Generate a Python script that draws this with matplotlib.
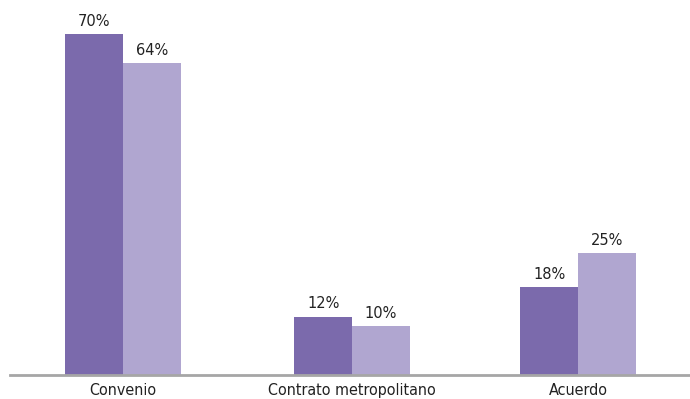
import matplotlib.pyplot as plt
import numpy as np

categories = ["Convenio", "Contrato metropolitano", "Acuerdo"]
serie_a = [70, 12, 18]
serie_b = [64, 10, 25]

plt.rcParams['font.family'] = ['DejaVu Sans']
plt.rcParams['font.stretch'] = 'condensed'

fig = plt.figure(figsize=(6.9, 3.99), dpi=100)
ax = fig.add_axes([10 / 690, 24 / 399, 680 / 690, 375 / 399])

x = np.array([0, 1.005, 1.996])
w = 0.254
b1 = ax.bar(x - w / 2, serie_a, w, color="#7B6AAC")
b2 = ax.bar(x + w / 2, serie_b, w, color="#B0A6D0")

for bars, vals in ((b1, serie_a), (b2, serie_b)):
    for rect, v in zip(bars, vals):
        ax.text(rect.get_x() + rect.get_width() / 2, v + 1.1, f"{v}%",
                ha="center", va="bottom", fontsize=11.7, color="#222222")

ax.set_xlim(-0.496, 2.487)
ax.set_ylim(0, 77)
ax.set_xticks(x)
ax.set_xticklabels(categories, fontsize=11.5, color="#222222")
ax.tick_params(axis="x", length=0, pad=6)
ax.set_yticks([])
for s in ("top", "right", "left"):
    ax.spines[s].set_visible(False)
ax.spines["bottom"].set_color("#A6A6A6")
ax.spines["bottom"].set_linewidth(2)

fig.savefig("out.png", dpi=100)
